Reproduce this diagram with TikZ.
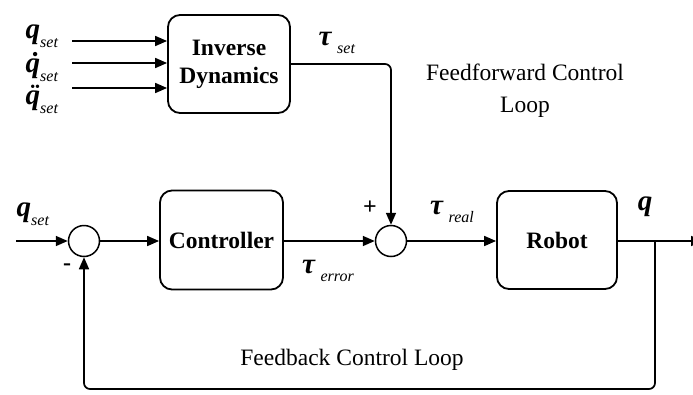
\documentclass[tikz,border=0pt]{standalone}
\usepackage{fontspec}
\setmainfont{Liberation Serif}
\usetikzlibrary{arrows.meta}
\newcommand\bivar[1]{\textbf{\textit{#1}}}
\newcommand\subtxt[1]{\raisebox{-0.3em}{\fontsize{16}{16}\selectfont\textit{#1}}}
\newcommand\accq[1]{\ooalign{\bivar{q}\cr\hidewidth\kern0.15em\textbf{#1}\hidewidth\cr}}
\begin{document}
\begin{tikzpicture}[x=1pt,y=-1pt,
  blk/.style={draw, line width=1.8pt, rounded corners=12pt, align=center,
    font=\bfseries\fontsize{23.5}{28}\selectfont, inner sep=2pt},
  sumc/.style={draw, circle, line width=1.5pt, minimum size=31pt, inner sep=0pt},
  wire/.style={line width=1.7pt},
  arr/.style={wire, -{Triangle[length=12pt,width=10pt]}},
  lab/.style={inner sep=0pt, font=\fontsize{29}{30}\selectfont},
  txt/.style={inner sep=0pt, align=center, font=\fontsize{23.5}{32}\selectfont},
  sgn/.style={inner sep=0pt, font=\bfseries\fontsize{24}{24}\selectfont}]
\useasboundingbox (0,0) rectangle (693,394);
\fill[white] (0,0) rectangle (693,394);

% blocks
\node[blk, minimum width=122pt, minimum height=98pt] (id) at (229,64) {Inverse\\Dynamics};
\node[blk, minimum width=123pt, minimum height=99pt] (ctrl) at (221.5,240) {Controller};
\node[blk, minimum width=120pt, minimum height=98pt] (robot) at (557,240) {Robot};
\node[sumc] (s1) at (84,241) {};
\node[sumc] (s2) at (391,241) {};

% inputs to inverse dynamics
\coordinate (i1) at (72,41);
\coordinate (i2) at (72,63);
\coordinate (i3) at (72,88);
\draw[arr] (i1) -- (i1 -| id.west);
\draw[arr] (i2) -- (i2 -| id.west);
\draw[arr] (i3) -- (i3 -| id.west);
\node[lab] (lq1) at (42,36) {\bivar{q}\subtxt{set}};
\node[lab] (lq2) at (42,70) {\accq{˙}\subtxt{set}};
\node[lab] (lq3) at (42,102) {\accq{¨}\subtxt{set}};

% feedforward torque
\draw[arr, rounded corners=6pt] (id.east) -- (s2 |- id.east) -- (s2.north);
\node[lab] (lts) at (337,43) {\bivar{τ}\,\subtxt{set}};

% main loop
\coordinate (qin) at (16,241);
\draw[arr] (qin) -- (s1.west);
\node[lab] (lq0) at (33,214) {\bivar{q}\subtxt{set}};
\draw[arr] (s1.east) -- (s1 -| ctrl.west);
\draw[arr] (ctrl.east |- s2) -- (s2.west);
\node[lab] (lte) at (328,271) {\bivar{τ}\,\subtxt{error}};
\draw[arr] (s2.east) -- (s2 -| robot.west);
\node[lab] (ltr) at (452,212) {\bivar{τ}\,\subtxt{real}};
\coordinate (out) at (703,241);
\draw[arr] (robot.east |- s2) -- (out);
\node[lab] (lq) at (645,207) {\bivar{q}};

% feedback
\coordinate (j) at (655,241);
\coordinate (fb) at (0,389);
\draw[arr, rounded corners=6pt] (j) -- (j |- fb) -- (s1 |- fb) -- (s1.south);

% signs
\node[sgn] (minus) at (67,267) {-};
\node[sgn] (plus) at (370,208) {+};

% captions
\node[txt] (ffl) at (525,91) {Feedforward Control\\Loop};
\node[txt] (fbl) at (352,360) {Feedback Control Loop};
\end{tikzpicture}
\end{document}
